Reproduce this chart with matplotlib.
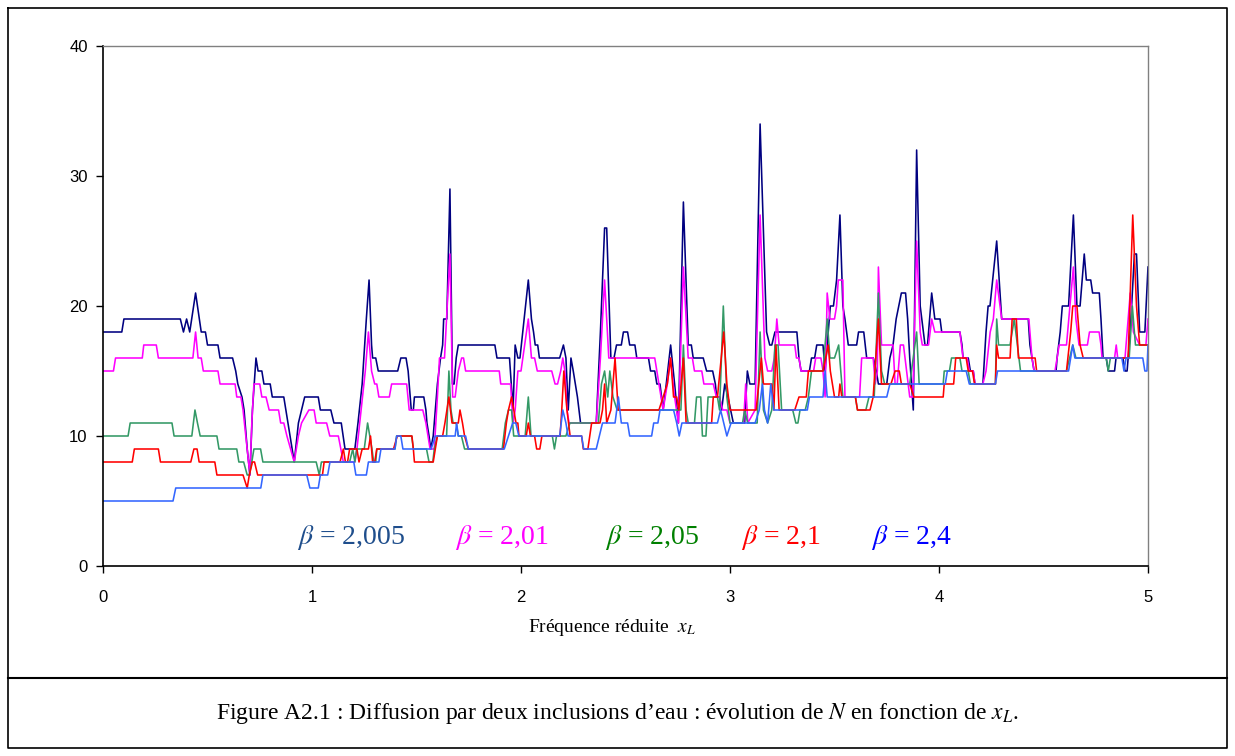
import numpy as np
import matplotlib
matplotlib.use("Agg")
import matplotlib.pyplot as plt
from matplotlib.lines import Line2D

plt.rcParams["mathtext.fontset"] = "stix"

# N against reduced frequency x_L, one curve per beta (knots: x, N)
beta_labels = ["2,005", "2,01", "2,05", "2,1", "2,4"]

n_2005 = [
    (0.00, 18), (0.09, 18), (0.10, 19), (0.37, 19), (0.385, 18), (0.40, 19), (0.415, 18),
    (0.443, 21), (0.47, 18), (0.49, 18), (0.50, 17), (0.55, 17), (0.56, 16), (0.62, 16),
    (0.635, 15), (0.645, 14), (0.665, 13), (0.675, 12), (0.69, 9), (0.703, 7), (0.715, 12),
    (0.732, 16), (0.742, 15), (0.76, 15), (0.77, 14), (0.80, 14), (0.81, 13), (0.865, 13),
    (0.875, 12), (0.895, 10), (0.915, 8), (0.935, 11), (0.95, 12), (0.965, 13), (1.03, 13),
    (1.04, 12), (1.09, 12), (1.105, 11), (1.14, 11), (1.158, 9), (1.205, 9), (1.22, 11),
    (1.24, 14), (1.26, 19), (1.273, 22), (1.285, 17), (1.29, 16), (1.305, 16), (1.317, 15),
    (1.41, 15), (1.425, 16), (1.45, 16), (1.46, 15), (1.475, 12), (1.485, 12), (1.49, 13),
    (1.535, 13), (1.545, 12), (1.55, 11), (1.56, 10), (1.568, 9), (1.58, 10), (1.60, 14),
    (1.615, 16), (1.625, 17), (1.63, 19), (1.645, 19), (1.66, 29), (1.672, 14), (1.68, 14),
    (1.69, 16), (1.70, 17), (1.875, 17), (1.885, 16), (1.945, 16), (1.962, 12), (1.972, 17),
    (1.985, 16), (1.995, 16), (2.035, 22), (2.05, 19), (2.06, 18), (2.068, 17), (2.08, 17),
    (2.088, 16), (2.185, 16), (2.203, 17), (2.215, 16), (2.226, 12), (2.239, 16), (2.25, 15),
    (2.26, 14), (2.27, 13), (2.285, 11), (2.36, 11), (2.38, 18), (2.40, 26), (2.41, 26),
    (2.43, 16), (2.445, 16), (2.457, 17), (2.48, 17), (2.49, 18), (2.51, 18), (2.52, 17),
    (2.545, 17), (2.554, 16), (2.61, 16), (2.62, 15), (2.64, 15), (2.65, 14), (2.665, 14),
    (2.68, 12), (2.695, 14), (2.716, 17), (2.735, 14), (2.753, 11), (2.777, 28), (2.80, 17),
    (2.815, 17), (2.824, 16), (2.872, 16), (2.888, 15), (2.917, 15), (2.93, 14), (2.936, 13),
    (2.95, 13), (2.96, 12), (2.975, 14), (2.99, 13), (3.016, 11), (3.07, 11), (3.083, 15),
    (3.095, 14), (3.12, 14), (3.144, 34), (3.175, 18), (3.19, 17), (3.20, 17), (3.215, 18),
    (3.32, 18), (3.33, 16), (3.34, 15), (3.38, 15), (3.39, 16), (3.405, 16), (3.415, 17),
    (3.445, 17), (3.455, 15), (3.47, 18), (3.48, 20), (3.495, 20), (3.51, 22), (3.526, 27),
    (3.54, 20), (3.55, 19), (3.566, 17), (3.606, 17), (3.615, 18), (3.64, 18), (3.654, 16),
    (3.686, 16), (3.70, 15), (3.71, 14), (3.75, 14), (3.765, 16), (3.78, 17), (3.795, 19),
    (3.82, 21), (3.84, 21), (3.85, 19), (3.86, 16), (3.877, 12), (3.893, 32), (3.91, 20),
    (3.933, 17), (3.945, 17), (3.965, 21), (3.98, 19), (4.005, 19), (4.013, 18), (4.10, 18),
    (4.11, 17), (4.115, 16), (4.14, 16), (4.15, 15), (4.164, 15), (4.172, 14), (4.21, 14),
    (4.225, 18), (4.235, 20), (4.244, 20), (4.276, 25), (4.30, 19), (4.427, 19), (4.435, 17),
    (4.445, 16), (4.455, 15), (4.56, 15), (4.565, 16), (4.58, 18), (4.59, 20), (4.62, 20),
    (4.643, 27), (4.66, 20), (4.675, 20), (4.695, 24), (4.705, 22), (4.726, 22), (4.735, 21),
    (4.767, 21), (4.775, 19), (4.785, 16), (4.80, 16), (4.81, 15), (4.84, 15), (4.847, 16),
    (4.88, 16), (4.89, 15), (4.90, 15), (4.915, 18), (4.935, 24), (4.945, 24), (4.96, 18),
    (4.985, 18), (5.00, 23),
]

n_201 = [
    (0.00, 15), (0.05, 15), (0.06, 16), (0.188, 16), (0.195, 17), (0.255, 17), (0.265, 16),
    (0.43, 16), (0.443, 18), (0.455, 16), (0.47, 16), (0.48, 15), (0.55, 15), (0.56, 14),
    (0.632, 14), (0.64, 13), (0.66, 13), (0.67, 12), (0.69, 9), (0.703, 7), (0.712, 11),
    (0.722, 14), (0.75, 14), (0.76, 13), (0.78, 13), (0.795, 12), (0.84, 12), (0.85, 11),
    (0.865, 11), (0.88, 10), (0.915, 8), (0.935, 10), (0.95, 11), (0.985, 12), (1.01, 12),
    (1.02, 11), (1.07, 11), (1.085, 10), (1.126, 10), (1.15, 8), (1.205, 8), (1.215, 9),
    (1.235, 12), (1.255, 15), (1.27, 18), (1.285, 15), (1.30, 14), (1.31, 14), (1.32, 13),
    (1.37, 13), (1.381, 14), (1.453, 14), (1.465, 12), (1.53, 12), (1.545, 11), (1.565, 9),
    (1.585, 9), (1.60, 13), (1.61, 16), (1.634, 16), (1.66, 24), (1.673, 13), (1.685, 13),
    (1.70, 15), (1.716, 16), (1.725, 16), (1.735, 15), (1.896, 15), (1.903, 14), (1.95, 14),
    (1.962, 11), (1.972, 12), (1.985, 15), (2.00, 15), (2.035, 19), (2.05, 16), (2.065, 16),
    (2.078, 15), (2.147, 15), (2.163, 14), (2.175, 14), (2.19, 15), (2.20, 16), (2.21, 15),
    (2.22, 12), (2.23, 11), (2.36, 11), (2.38, 16), (2.40, 22), (2.42, 16), (2.64, 16),
    (2.65, 15), (2.66, 14), (2.68, 12), (2.70, 14), (2.715, 16), (2.735, 13), (2.753, 11),
    (2.777, 23), (2.80, 16), (2.82, 16), (2.83, 15), (2.865, 15), (2.875, 14), (2.92, 14),
    (2.935, 13), (2.95, 13), (2.965, 12), (2.985, 12), (3.00, 11), (3.065, 11), (3.075, 14),
    (3.085, 11), (3.12, 12), (3.144, 27), (3.167, 16), (3.18, 15), (3.20, 15), (3.212, 16),
    (3.224, 19), (3.235, 17), (3.31, 17), (3.318, 16), (3.33, 16), (3.34, 15), (3.40, 15),
    (3.41, 16), (3.435, 16), (3.445, 15), (3.455, 13), (3.465, 21), (3.478, 19), (3.50, 19),
    (3.51, 20), (3.518, 22), (3.54, 22), (3.55, 13), (3.62, 13), (3.63, 16), (3.685, 16),
    (3.695, 14), (3.705, 15), (3.71, 23), (3.725, 17), (3.78, 17), (3.79, 14), (3.80, 14),
    (3.815, 17), (3.83, 17), (3.845, 15), (3.86, 13), (3.875, 13), (3.893, 25), (3.91, 18),
    (3.92, 17), (3.95, 17), (3.965, 19), (3.98, 18), (4.10, 18), (4.115, 16), (4.135, 16),
    (4.145, 15), (4.164, 15), (4.172, 14), (4.21, 14), (4.225, 15), (4.245, 18), (4.26, 19),
    (4.276, 22), (4.30, 19), (4.43, 19), (4.445, 16), (4.455, 15), (4.555, 15), (4.565, 16),
    (4.575, 17), (4.61, 17), (4.643, 23), (4.655, 19), (4.67, 17), (4.71, 17), (4.72, 18),
    (4.766, 18), (4.775, 17), (4.78, 16), (4.84, 16), (4.848, 17), (4.855, 16), (4.89, 16),
    (4.90, 18), (4.915, 21), (4.93, 18), (4.96, 17), (4.99, 17), (5.00, 19),
]

n_205 = [
    (0.00, 10), (0.12, 10), (0.13, 11), (0.33, 11), (0.34, 10), (0.425, 10), (0.44, 12),
    (0.452, 11), (0.465, 10), (0.545, 10), (0.555, 9), (0.64, 9), (0.65, 8), (0.673, 8),
    (0.69, 7), (0.70, 7), (0.712, 8), (0.722, 9), (0.754, 9), (0.765, 8), (1.02, 8),
    (1.035, 7), (1.045, 8), (1.18, 8), (1.195, 9), (1.205, 8), (1.214, 9), (1.25, 9),
    (1.266, 11), (1.287, 9), (1.295, 8), (1.305, 8), (1.31, 9), (1.397, 9), (1.405, 10),
    (1.477, 10), (1.485, 9), (1.548, 9), (1.56, 8), (1.578, 8), (1.585, 9), (1.60, 10),
    (1.644, 10), (1.655, 15), (1.665, 12), (1.675, 11), (1.69, 11), (1.70, 10), (1.715, 10),
    (1.73, 9), (1.91, 9), (1.925, 11), (1.94, 12), (1.955, 12), (1.965, 10), (2.02, 10),
    (2.035, 13), (2.048, 10), (2.15, 10), (2.16, 9), (2.17, 10), (2.215, 10), (2.234, 11),
    (2.37, 11), (2.385, 14), (2.40, 15), (2.415, 13), (2.425, 15), (2.44, 13), (2.46, 12),
    (2.72, 12), (2.745, 12), (2.765, 12), (2.777, 17), (2.79, 12), (2.80, 11), (2.83, 11),
    (2.84, 13), (2.86, 13), (2.868, 10), (2.885, 10), (2.895, 13), (2.94, 13), (2.95, 12),
    (2.968, 20), (2.985, 13), (3.00, 11), (3.06, 11), (3.07, 12), (3.085, 11), (3.13, 11),
    (3.144, 18), (3.16, 12), (3.18, 11), (3.20, 12), (3.215, 17), (3.23, 17), (3.247, 12),
    (3.30, 12), (3.315, 11), (3.325, 11), (3.335, 12), (3.36, 12), (3.375, 13), (3.39, 15),
    (3.445, 15), (3.465, 19), (3.478, 16), (3.50, 16), (3.52, 17), (3.54, 13), (3.60, 13),
    (3.61, 12), (3.65, 12), (3.665, 13), (3.69, 13), (3.71, 21), (3.725, 15), (3.74, 14),
    (3.86, 14), (3.893, 18), (3.905, 14), (4.02, 14), (4.025, 15), (4.05, 15), (4.06, 16),
    (4.10, 16), (4.11, 15), (4.14, 15), (4.15, 14), (4.27, 14), (4.276, 19), (4.285, 17),
    (4.34, 17), (4.36, 19), (4.375, 17), (4.39, 15), (4.61, 15), (4.625, 16), (4.64, 17),
    (4.655, 16), (4.80, 16), (4.81, 15), (4.82, 16), (4.91, 16), (4.925, 20), (4.94, 17),
    (5.00, 17),
]

n_21 = [
    (0.00, 8), (0.14, 8), (0.15, 9), (0.265, 9), (0.275, 8), (0.42, 8), (0.435, 9), (0.45, 9),
    (0.46, 8), (0.535, 8), (0.545, 7), (0.67, 7), (0.69, 6), (0.70, 7), (0.715, 8), (0.725, 8),
    (0.74, 7), (1.05, 7), (1.058, 8), (1.134, 8), (1.15, 9), (1.16, 8), (1.17, 8), (1.18, 9),
    (1.215, 9), (1.225, 8), (1.24, 9), (1.27, 9), (1.28, 10), (1.29, 8), (1.30, 8), (1.31, 9),
    (1.39, 9), (1.408, 10), (1.478, 10), (1.485, 9), (1.49, 8), (1.58, 8), (1.59, 9),
    (1.60, 10), (1.625, 10), (1.636, 11), (1.655, 13), (1.67, 11), (1.70, 11), (1.708, 12),
    (1.72, 11), (1.73, 10), (1.748, 9), (1.916, 9), (1.93, 11), (1.94, 12), (1.955, 13),
    (1.976, 11), (1.985, 11), (1.99, 10), (2.025, 10), (2.035, 11), (2.045, 10), (2.065, 10),
    (2.075, 9), (2.09, 9), (2.10, 10), (2.187, 10), (2.195, 12), (2.205, 15), (2.22, 12),
    (2.235, 10), (2.29, 10), (2.298, 9), (2.32, 9), (2.338, 11), (2.378, 11), (2.39, 12),
    (2.40, 14), (2.41, 11), (2.43, 12), (2.45, 16), (2.465, 12), (2.66, 12), (2.70, 14),
    (2.716, 16), (2.73, 13), (2.745, 13), (2.755, 12), (2.777, 16), (2.79, 11), (2.912, 11),
    (2.92, 13), (2.94, 13), (2.97, 18), (2.985, 14), (3.00, 12), (3.125, 12), (3.15, 16),
    (3.16, 14), (3.20, 14), (3.21, 12), (3.22, 17), (3.235, 12), (3.31, 12), (3.33, 13),
    (3.365, 13), (3.375, 15), (3.445, 15), (3.47, 17), (3.48, 15), (3.49, 14), (3.50, 13),
    (3.52, 13), (3.526, 14), (3.535, 13), (3.60, 13), (3.61, 12), (3.67, 12), (3.685, 13),
    (3.71, 19), (3.725, 14), (3.77, 14), (3.79, 15), (3.81, 15), (3.82, 14), (3.86, 14),
    (3.88, 13), (4.02, 13), (4.025, 14), (4.07, 14), (4.08, 16), (4.13, 16), (4.14, 15),
    (4.16, 15), (4.17, 14), (4.27, 14), (4.276, 17), (4.285, 16), (4.34, 16), (4.35, 19),
    (4.37, 19), (4.38, 16), (4.46, 16), (4.467, 15), (4.61, 15), (4.63, 18), (4.64, 20),
    (4.66, 20), (4.675, 17), (4.69, 16), (4.905, 16), (4.927, 27), (4.945, 20), (4.96, 17),
    (5.00, 17),
]

n_24 = [
    (0.00, 5), (0.335, 5), (0.348, 6), (0.755, 6), (0.765, 7), (0.975, 7), (0.99, 6),
    (1.03, 6), (1.04, 7), (1.075, 7), (1.086, 8), (1.20, 8), (1.21, 7), (1.26, 7), (1.27, 8),
    (1.32, 8), (1.33, 9), (1.397, 9), (1.405, 10), (1.425, 10), (1.435, 9), (1.57, 9),
    (1.59, 10), (1.685, 10), (1.692, 11), (1.70, 10), (1.735, 10), (1.748, 9), (1.92, 9),
    (1.94, 10), (1.96, 11), (1.975, 11), (1.99, 10), (2.185, 10), (2.20, 12), (2.215, 11),
    (2.225, 10), (2.29, 10), (2.30, 9), (2.36, 9), (2.375, 10), (2.39, 11), (2.45, 11),
    (2.466, 13), (2.48, 11), (2.51, 11), (2.52, 10), (2.625, 10), (2.635, 11), (2.655, 11),
    (2.665, 12), (2.73, 12), (2.745, 11), (2.757, 10), (2.77, 11), (2.94, 11), (2.955, 12),
    (2.985, 10), (3.005, 11), (3.12, 11), (3.14, 12), (3.155, 14), (3.165, 12), (3.18, 11),
    (3.195, 14), (3.21, 12), (3.37, 12), (3.38, 13), (3.445, 13), (3.455, 15), (3.465, 13),
    (3.75, 13), (3.765, 14), (4.03, 14), (4.04, 15), (4.13, 15), (4.145, 14), (4.27, 14),
    (4.28, 15), (4.62, 15), (4.64, 17), (4.65, 16), (4.875, 16), (4.885, 15), (4.895, 16),
    (4.975, 16), (4.985, 15), (4.995, 15), (5.00, 17),
]

series = [n_2005, n_201, n_205, n_21, n_24]
line_colors = ["#000080", "#FF00FF", "#339966", "#FF0000", "#3366FF"]
label_colors = ["#1F4E8C", "#FF00FF", "#008000", "#FF0000", "#0000FF"]
label_x = [351, 502, 652, 781, 911]  # label centres, px

W, H = 1235, 756
fig = plt.figure(figsize=(W / 100, H / 100), dpi=100)
ax = fig.add_axes([103 / W, 1 - 566 / H, (1148 - 103) / W, (566 - 46) / H])

for pts, col in zip(series, line_colors):
    xs, ys = zip(*pts)
    ax.plot(xs, ys, color=col, lw=1.15, solid_joinstyle="round")

ax.set_xlim(0, 5)
ax.set_ylim(0, 40)
ax.set_xticks(range(6))
ax.set_yticks(range(0, 41, 10))
ax.tick_params(direction="out", length=5, width=1, labelsize=12)
ax.tick_params(axis="x", pad=12)
ax.tick_params(axis="y", pad=6)
for lab in ax.get_xticklabels() + ax.get_yticklabels():
    lab.set_fontfamily("Liberation Sans")
for s in ("left", "bottom"):
    ax.spines[s].set_linewidth(1.2)
for s in ("top", "right"):
    ax.spines[s].set_color("#808080")
    ax.spines[s].set_linewidth(1.0)

ax.set_xlabel(r"Fréquence réduite  $x_L$", fontfamily="Liberation Serif", fontsize=14)
ax.xaxis.set_label_coords((612 - 103) / (1148 - 103), -(628 - 566) / (566 - 46))
ax.xaxis.label.set_va("center")

for txt, col, px in zip(beta_labels, label_colors, label_x):
    fig.text(px / W, 1 - 537 / H, r"$\beta$ = " + txt, color=col,
             fontfamily="Liberation Serif", fontsize=20, ha="center", va="center")

# frame around the chart and caption cell
fig.add_artist(Line2D([8 / W, 1227 / W, 1227 / W, 8 / W, 8 / W],
                      [1 - 8 / H, 1 - 8 / H, 1 - 748 / H, 1 - 748 / H, 1 - 8 / H],
                      color="black", lw=1.2))
fig.add_artist(Line2D([8 / W, 1227 / W], [1 - 678 / H, 1 - 678 / H], color="black", lw=1.5))

fig.text(617 / W, 1 - 713 / H,
         r"Figure A2.1 : Diffusion par deux inclusions d’eau : évolution de $N$ en fonction de $x_L$.",
         fontfamily="Liberation Serif", fontsize=17, ha="center", va="center")

fig.savefig("out.png", dpi=100)
